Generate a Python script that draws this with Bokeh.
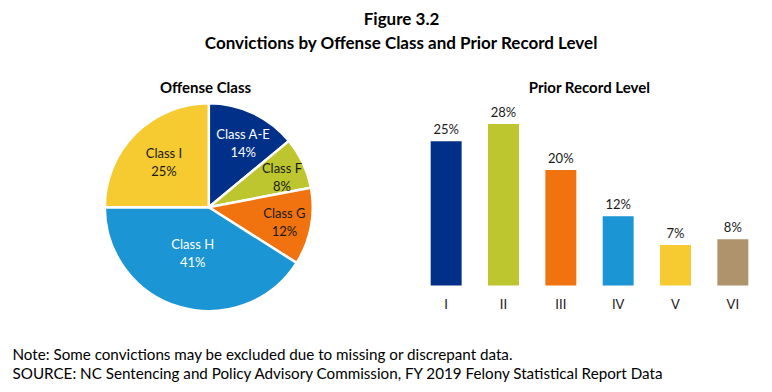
import math
from bokeh.plotting import figure
from bokeh.layouts import column, row
from bokeh.models import ColumnDataSource, Range1d, FactorRange
from bokeh.core.properties import value
from bokeh.embed import file_html
from bokeh.resources import INLINE

# ---------------- data ----------------
main_title = "Figure 3.2"
sub_title = "Convictions by Offense Class and Prior Record Level"
pie_title = "Offense Class"
offense_classes = ["Class A-E", "Class F", "Class G", "Class H", "Class I"]
offense_pct = [14, 8, 12, 41, 25]
bar_title = "Prior Record Level"
record_levels = ["I", "II", "III", "IV", "V", "VI"]
record_pct = [25, 28, 20, 12, 7, 8]
note_lines = [
    "Note: Some convictions may be excluded due to missing or discrepant data.",
    "SOURCE: NC Sentencing and Policy Advisory Commission, FY 2019 Felony Statistical Report Data",
]

# ---------------- style ----------------
FONT = "Lato"
pie_colors = ["#003087", "#BDC62F", "#F0730F", "#1B95D3", "#F5CB31"]
pie_text_colors = ["white", "#1a1a1a", "#1a1a1a", "white", "#1a1a1a"]
label_rfrac = [0.70, 0.76, 0.74, 0.47, 0.61]
label_dang = [3, 3, 0, 3, 0]
bar_colors = ["#003087", "#BDC62F", "#F0730F", "#1B95D3", "#F5CB31", "#AF936D"]

W = 764
H_HEAD, H_MID, H_FOOT = 58, 277, 49
W_PIE = 408
W_BAR = W - W_PIE


def blank(w, h, xr, yr):
    f = figure(width=w, height=h, x_range=xr, y_range=yr, output_backend="svg",
               toolbar_location=None, min_border=0, x_axis_location=None,
               y_axis_location=None)
    f.outline_line_color = None
    f.grid.visible = False
    return f


# ---------------- header ----------------
head = blank(W, H_HEAD, Range1d(0, W), Range1d(H_HEAD, 0))
head.text(x=[401, 401], y=[18, 41.5], text=[main_title, sub_title],
          text_font=value(FONT), text_font_style="bold", text_font_size="17px",
          text_align="center", text_baseline="middle", text_color="black")

# ---------------- pie ----------------
pie = blank(W_PIE, H_MID, Range1d(0, W_PIE), Range1d(0, H_MID))
cx, cy, R = 208.3, 128.3, 104
tot = sum(offense_pct)
starts, ends, lx, ly = [], [], [], []
cum = 0
for i, v in enumerate(offense_pct):
    a0 = cum / tot
    cum += v
    a1 = cum / tot
    starts.append(math.pi / 2 - 2 * math.pi * a0)
    ends.append(math.pi / 2 - 2 * math.pi * a1)
    mid = math.pi / 2 - 2 * math.pi * (a0 + a1) / 2 - math.radians(label_dang[i])
    r = label_rfrac[i] * R
    lx.append(cx + r * math.cos(mid))
    ly.append(cy + r * math.sin(mid))
src = ColumnDataSource(dict(start=starts, end=ends, color=pie_colors,
                            x=[cx] * len(starts), y=[cy] * len(starts)))
pie.wedge(x="x", y="y", radius=R, radius_units="screen", start_angle="start",
          end_angle="end", direction="clock", fill_color="color",
          line_color="white", line_width=2.5, source=src)
lsrc = ColumnDataSource(dict(x=lx, y=ly, name=offense_classes,
                             pct=[f"{v}%" for v in offense_pct], tc=pie_text_colors))
pie.text(x="x", y="y", text="name", y_offset=-9, text_color="tc", source=lsrc,
         text_font=value(FONT), text_font_size="13px", text_align="center",
         text_baseline="middle")
pie.text(x="x", y="y", text="pct", y_offset=9, text_color="tc", source=lsrc,
         text_font=value(FONT), text_font_size="13px", text_align="center",
         text_baseline="middle")
pie.text(x=[205], y=[H_MID - 28.7], text=[pie_title], text_font=value(FONT),
         text_font_style="bold", text_font_size="15px", text_align="center",
         text_baseline="middle", text_color="black")

# ---------------- bars ----------------
px_per_pct = 5.77
row_top = H_HEAD           # page y of the top of the middle row
base_page = 285            # page y of the bar baseline
y_end = (base_page - row_top) / px_per_pct
y_start = -(row_top + H_MID - base_page) / px_per_pct
bar = figure(width=W_BAR, height=H_MID, x_range=FactorRange(*record_levels),
             y_range=Range1d(y_start, y_end), output_backend="svg",
             toolbar_location=None, min_border_left=9, min_border_right=3,
             min_border_top=0, min_border_bottom=0,
             x_axis_location=None, y_axis_location=None)
bar.outline_line_color = None
bar.grid.visible = False
bsrc = ColumnDataSource(dict(x=record_levels, top=record_pct, color=bar_colors,
                             lab=[f"{v}%" for v in record_pct],
                             zero=[0] * len(record_levels)))
bar.vbar(x="x", top="top", width=0.54, fill_color="color", line_color=None,
         source=bsrc)
bar.text(x="x", y="top", text="lab", y_offset=-12, source=bsrc,
         text_font=value(FONT), text_font_size="13px", text_align="center",
         text_baseline="middle", text_color="#1a1a1a")
# category (tick) labels below the baseline
bar.text(x="x", y="zero", text="x", y_offset=18, source=bsrc,
         text_font=value(FONT), text_font_size="13px", text_align="center",
         text_baseline="middle", text_color="#1a1a1a")
slot = (W_BAR - 12) / len(record_levels)
bar.text(x=[record_levels[2]], y=[(base_page - 86.7) / px_per_pct], text=[bar_title],
         x_offset=slot / 2, text_font=value(FONT), text_font_style="bold",
         text_font_size="15px", text_align="center", text_baseline="middle",
         text_color="black")

# ---------------- footer ----------------
foot = blank(W, H_FOOT, Range1d(0, W), Range1d(H_FOOT, 0))
foot.text(x=[12, 12], y=[18, 37], text=note_lines, text_font=value(FONT),
          text_font_size="15.2px", text_align="left", text_baseline="middle",
          text_color="black")

layout = column(head, row(pie, bar), foot)
open("out.html", "w").write(file_html(layout, INLINE))
